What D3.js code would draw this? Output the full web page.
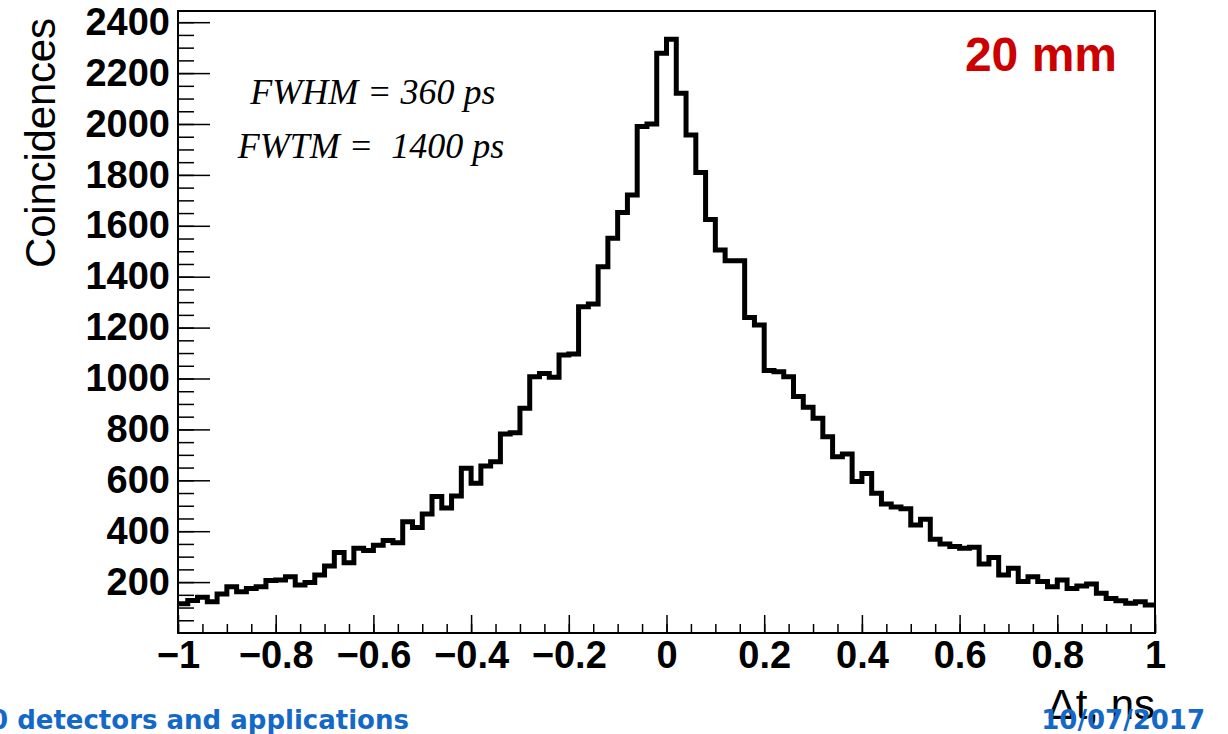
<!DOCTYPE html>
<html>
<head>
<meta charset="utf-8">
<script src="https://cdn.jsdelivr.net/npm/d3@7"></script>
<style>
  html, body { margin: 0; padding: 0; background: #fff; }
  svg { display: block; }
</style>
</head>
<body>
<div id="chart"></div>
<script>
// histogram: 100 bins from -1 to 1 ns
const xRange = [-1, 1];
const counts = [
  115, 128, 140, 123, 153, 182, 162, 175, 182, 206,
  208, 221, 189, 198, 228, 263, 316, 276, 333, 324,
  345, 363, 355, 437, 415, 468, 536, 491, 538, 647,
  588, 656, 673, 782, 787, 883, 1007, 1020, 1005, 1092,
  1096, 1282, 1293, 1439, 1551, 1652, 1721, 1990, 2000, 2278,
  2333, 2121, 1957, 1809, 1625, 1505, 1463, 1463, 1240, 1210,
  1031, 1027, 1007, 929, 887, 844, 771, 693, 703, 595,
  627, 549, 507, 495, 488, 424, 447, 368, 350, 340,
  333, 337, 271, 297, 228, 254, 202, 221, 202, 182,
  208, 175, 185, 193, 156, 136, 127, 117, 123, 110
];
const xTicks = [-1, -0.8, -0.6, -0.4, -0.2, 0, 0.2, 0.4, 0.6, 0.8, 1];
const xMinor = d3.range(-20, 21).map(d => d * 0.05);
const yTicks = [200, 400, 600, 800, 1000, 1200, 1400, 1600, 1800, 2000, 2200, 2400];
const yMinor = d3.range(1, 49).map(d => d * 50);
const yMax = 2444;
const notes = ["FWHM = 360 ps", "FWTM =  1400 ps"];

const W = 1228, H = 734;
const frame = { left: 178, right: 1155, top: 11, bottom: 633 };

const svg = d3.select('#chart').append('svg')
    .attr('width', W)
    .attr('height', H);

const x = d3.scaleLinear().domain(xRange).range([frame.left, frame.right]);
const y = d3.scaleLinear().domain([0, yMax]).range([frame.bottom, frame.top]);

const nBins = counts.length;
const binW = (xRange[1] - xRange[0]) / nBins;

// step path
const pts = [];
counts.forEach((c, i) => {
    const x0 = xRange[0] + i * binW;
    pts.push([x(x0), y(c)]);
    pts.push([x(x0 + binW), y(c)]);
});

// frame
svg.append('rect')
    .attr('x', frame.left)
    .attr('y', frame.top)
    .attr('width', frame.right - frame.left)
    .attr('height', frame.bottom - frame.top)
    .attr('fill', 'none')
    .attr('stroke', '#000')
    .attr('stroke-width', 2);

const tickFont = 'Liberation Sans, Arial, sans-serif';

// y axis
svg.append('g')
    .attr('transform', `translate(${frame.left},0)`)
    .call(d3.axisLeft(y).tickValues(yTicks).tickSize(-32).tickPadding(8).tickFormat(d3.format('d')));
svg.append('g')
    .attr('transform', `translate(${frame.left},0)`)
    .call(d3.axisLeft(y).tickValues(yMinor).tickSize(-16).tickFormat(''));

// x axis
svg.append('g')
    .attr('transform', `translate(0,${frame.bottom})`)
    .call(d3.axisBottom(x).tickValues(xTicks).tickSize(-18).tickPadding(8).tickFormat(d3.format('~g')));
svg.append('g')
    .attr('transform', `translate(0,${frame.bottom})`)
    .call(d3.axisBottom(x).tickValues(xMinor).tickSize(-9).tickFormat(''));

svg.selectAll('.domain').remove();
svg.selectAll('.tick line').attr('stroke', '#000').attr('stroke-width', 1.5);
svg.selectAll('.tick text')
    .attr('font-family', tickFont)
    .attr('font-weight', 'bold')
    .attr('font-size', 38)
    .attr('fill', '#000');

// histogram
svg.append('path')
    .attr('d', d3.line()(pts))
    .attr('fill', 'none')
    .attr('stroke', '#000')
    .attr('stroke-width', 5)
    .attr('stroke-linejoin', 'miter');

// axis titles
svg.append('text')
    .attr('transform', 'translate(55,18) rotate(-90)')
    .attr('text-anchor', 'end')
    .attr('font-family', tickFont)
    .attr('font-size', 42)
    .attr('textLength', 250)
    .text('Coincidences');

svg.append('text')
    .attr('x', 1155)
    .attr('y', 719)
    .attr('text-anchor', 'end')
    .attr('font-family', tickFont)
    .attr('font-size', 42)
    .text('Δt, ns');

// annotations
svg.append('text')
    .attr('x', 373)
    .attr('y', 104)
    .attr('text-anchor', 'middle')
    .attr('font-family', 'Liberation Serif, Times New Roman, serif')
    .attr('font-style', 'italic')
    .attr('font-size', 36)
    .style('white-space', 'pre')
    .text(notes[0]);
svg.append('text')
    .attr('x', 371)
    .attr('y', 158)
    .attr('text-anchor', 'middle')
    .attr('font-family', 'Liberation Serif, Times New Roman, serif')
    .attr('font-style', 'italic')
    .attr('font-size', 36)
    .style('white-space', 'pre')
    .text(notes[1]);

svg.append('text')
    .attr('x', 1117)
    .attr('y', 71)
    .attr('text-anchor', 'end')
    .attr('font-family', tickFont)
    .attr('font-weight', 'bold')
    .attr('font-size', 48)
    .attr('fill', '#cc0000')
    .text('20 mm');

// slide footer (cut at the left edge, overlapping the axis title, as in the slide)
svg.append('text')
    .attr('x', -10)
    .attr('y', 729)
    .attr('font-family', 'DejaVu Sans, sans-serif')
    .attr('font-weight', 'bold')
    .attr('font-size', 26)
    .attr('fill', '#1468c8')
    .text('0 detectors and applications');
svg.append('text')
    .attr('x', 1205)
    .attr('y', 729)
    .attr('text-anchor', 'end')
    .attr('font-family', 'DejaVu Sans, sans-serif')
    .attr('font-weight', 'bold')
    .attr('font-size', 26)
    .attr('fill', '#1468c8')
    .text('10/07/2017');
</script>
</body>
</html>
